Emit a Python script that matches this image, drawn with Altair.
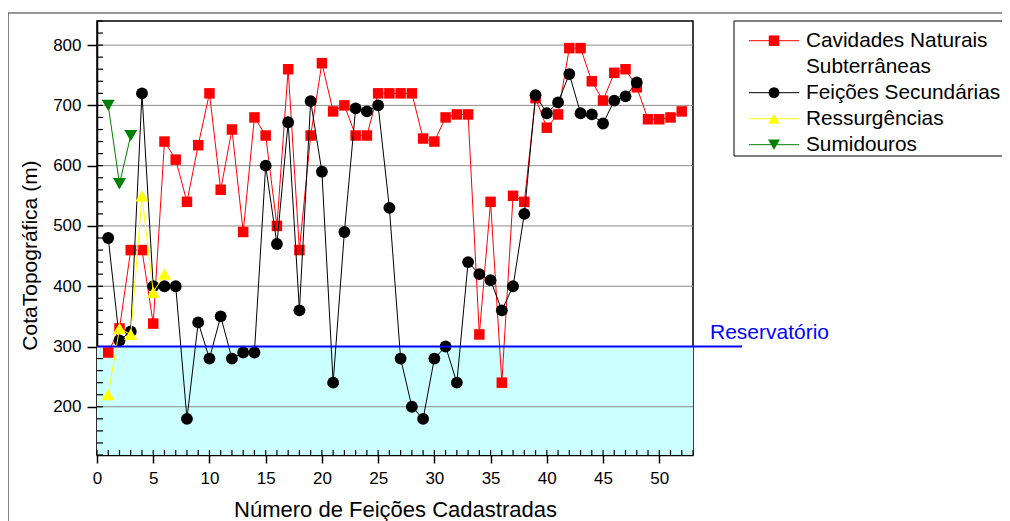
import altair as alt
import pandas as pd
import numpy as np

# ---------------- data ----------------
SERIES = ["Cavidades Naturais Subterrâneas", "Feições Secundárias", "Ressurgências", "Sumidouros"]
LEGEND_LINES = ["Cavidades Naturais", "Subterrâneas", "Feições Secundárias", "Ressurgências", "Sumidouros"]
LEGEND_ROW = [0, 2, 3, 4]
COLORS = ["#ff0000", "#000000", "#ffff00", "#008000"]
SHAPES = ["square", "circle", "triangle-up", "triangle-down"]
SIZES = [110, 140, 170, 170]

CAV = [290, 330, 460, 460, 338, 640, 610, 540, 634, 720, 560, 660, 490, 680, 650, 500,
       760, 460, 650, 770, 690, 700, 650, 650, 720, 720, 720, 720, 645, 640, 680, 685,
       685, 320, 540, 240, 550, 540, 712, 663, 685, 795, 795, 740, 708, 754, 760, 730,
       677, 677, 680, 690]
FEI = [480, 310, 325, 720, 400, 400, 400, 180, 340, 280, 350, 280, 290, 290, 600, 470,
       672, 360, 707, 590, 240, 490, 695, 690, 700, 530, 280, 200, 180, 280, 300, 240,
       440, 420, 410, 360, 400, 520, 717, 687, 705, 752, 687, 685, 670, 708, 715, 738]
RES = [220, 330, 320, 550, 390, 420]
SUM = [700, 570, 650]
VALUES = [CAV, FEI, RES, SUM]

X_TICKS = [0, 5, 10, 15, 20, 25, 30, 35, 40, 45, 50]
Y_TICKS = [200, 300, 400, 500, 600, 700, 800]
X_DOMAIN = [0, 53]
Y_DOMAIN = [120, 840]
RESERVOIR = 300
RES_LABEL = "Reservatório"
X_TITLE = "Número de Feições Cadastradas"
Y_TITLE = "CotaTopográfica (m)"

FONT = "Liberation Sans"
W, H = 596, 434

rows = []
for name, vals in zip(SERIES, VALUES):
    for i, v in enumerate(vals):
        rows.append({"series": name, "x": i + 1, "y": v})
df = pd.DataFrame(rows)

xs = alt.Scale(domain=X_DOMAIN, nice=False, zero=False)
ys = alt.Scale(domain=Y_DOMAIN, nice=False, zero=False)

xaxis = alt.Axis(values=X_TICKS, title=X_TITLE, grid=False, tickSize=8, tickColor="black",
                 tickWidth=1.5, domainColor="black", domainWidth=1.5, labelFontSize=17,
                 labelColor="black", labelPadding=7, labelFlush=False, labelOverlap=False,
                 titleFontSize=22, titleFontWeight="normal", titleColor="black",
                 titleY=61, titleBaseline="alphabetic", labelFont=FONT, titleFont=FONT)
yaxis = alt.Axis(values=Y_TICKS, title=Y_TITLE, grid=False, tickSize=10, tickColor="black",
                 tickWidth=1.5, domainColor="black", domainWidth=1.5, labelFontSize=17,
                 labelColor="black", labelPadding=6, labelOverlap=False,
                 titleFontSize=21, titleFontWeight="normal", titleColor="black",
                 titleX=-67, titleY=234, titleAngle=270, titleBaseline="middle",
                 titleAlign="center", labelFont=FONT, titleFont=FONT)

one = pd.DataFrame({"a": [0]})

frame = alt.Chart(one).mark_rect(fillOpacity=0, stroke="#333333", strokeWidth=1.2).encode(
    x=alt.value(-89), x2=alt.value(2000), y=alt.value(-8), y2=alt.value(900))

water = alt.Chart(pd.DataFrame({"x": [X_DOMAIN[0]], "x2": [X_DOMAIN[1]],
                                "y": [Y_DOMAIN[0]], "y2": [RESERVOIR]})).mark_rect(
    color="#ccffff").encode(
    x=alt.X("x:Q", scale=xs, axis=xaxis), x2="x2",
    y=alt.Y("y:Q", scale=ys, axis=yaxis), y2="y2")

grid = alt.Chart(pd.DataFrame({"y": Y_TICKS})).mark_rule(color="#8c8c8c", strokeWidth=1).encode(
    y=alt.Y("y:Q", scale=ys), x=alt.value(0), x2=alt.value(W))

xminor = alt.Chart(pd.DataFrame({"x": np.arange(X_DOMAIN[0], X_DOMAIN[1] + 1)})).mark_rule(
    color="black", strokeWidth=1.2).encode(
    x=alt.X("x:Q", scale=xs), y=alt.value(H - 5), y2=alt.value(H))
yminor = alt.Chart(pd.DataFrame({"y": np.arange(Y_DOMAIN[0], Y_DOMAIN[1] + 1, 20)})).mark_rule(
    color="black", strokeWidth=1.2).encode(
    y=alt.Y("y:Q", scale=ys), x=alt.value(0), x2=alt.value(6))

res_df = pd.DataFrame({"y": [RESERVOIR], "t": [RES_LABEL]})
res_line = alt.Chart(res_df).mark_rule(color="#0000ff", strokeWidth=2).encode(
    y=alt.Y("y:Q", scale=ys), x=alt.value(0), x2=alt.value(645))
res_text = alt.Chart(res_df).mark_text(align="left", baseline="alphabetic", dy=-8,
                                       fontSize=21, color="#0000ff", font=FONT).encode(
    y=alt.Y("y:Q", scale=ys), x=alt.value(613), text="t:N")

series_layers = []
for name, c, s, sz in zip(SERIES, COLORS, SHAPES, SIZES):
    sub = df[df.series == name]
    base = alt.Chart(sub).encode(x=alt.X("x:Q", scale=xs), y=alt.Y("y:Q", scale=ys))
    series_layers.append(base.mark_line(color=c, strokeWidth=1))
    series_layers.append(base.mark_point(shape=s, size=sz, filled=True, color=c,
                                         opacity=1, strokeWidth=0))

main = alt.layer(frame, water, grid, xminor, yminor, *series_layers, res_line, res_text)

# ---------------- legend ----------------
ly = alt.Scale(domain=[0, 4], range=[19.7, 123.7])
leg_sym = pd.DataFrame({"series": SERIES, "row": LEGEND_ROW})
leg_txt = pd.DataFrame({"row": list(range(len(LEGEND_LINES))), "t": LEGEND_LINES})
cscale = alt.Scale(domain=SERIES, range=COLORS)
box = alt.Chart(one).mark_rect(fill="white", strokeWidth=0).encode(
    x=alt.value(637), x2=alt.value(2000), y=alt.value(0), y2=alt.value(135))
box_top = alt.Chart(one).mark_rule(color="black", strokeWidth=1).encode(
    x=alt.value(637), x2=alt.value(2000), y=alt.value(0))
box_bot = alt.Chart(one).mark_rule(color="black", strokeWidth=1).encode(
    x=alt.value(637), x2=alt.value(2000), y=alt.value(135))
box_left = alt.Chart(one).mark_rule(color="black", strokeWidth=1).encode(
    x=alt.value(637), y=alt.value(0), y2=alt.value(135))
leg_lines = alt.Chart(leg_sym).mark_rule(strokeWidth=1).encode(
    y=alt.Y("row:Q", scale=ly, axis=None), x=alt.value(652), x2=alt.value(702),
    color=alt.Color("series:N", scale=cscale, legend=None))
leg_pts = alt.Chart(leg_sym).mark_point(filled=True, opacity=1, strokeWidth=0).encode(
    y=alt.Y("row:Q", scale=ly, axis=None), x=alt.value(677),
    color=alt.Color("series:N", scale=cscale, legend=None),
    shape=alt.Shape("series:N", scale=alt.Scale(domain=SERIES, range=SHAPES), legend=None),
    size=alt.Size("series:N", scale=alt.Scale(domain=SERIES, range=SIZES), legend=None))
leg_text = alt.Chart(leg_txt).mark_text(align="left", baseline="middle", fontSize=20.8,
                                        color="black", font=FONT).encode(
    y=alt.Y("row:Q", scale=ly, axis=None), x=alt.value(709), text="t:N")
legend = alt.layer(box, box_top, box_bot, box_left, leg_lines, leg_pts, leg_text)

chart = alt.layer(main, legend).resolve_scale(y="independent", color="independent").properties(
    width=W, height=H, autosize="none",
    padding={"left": 89, "top": 13, "right": 309, "bottom": 66},
    background="white",
).configure(font=FONT).configure_view(stroke="black", strokeWidth=1.5)

chart.save("out.html", embed_options={"renderer": "svg", "actions": False})
